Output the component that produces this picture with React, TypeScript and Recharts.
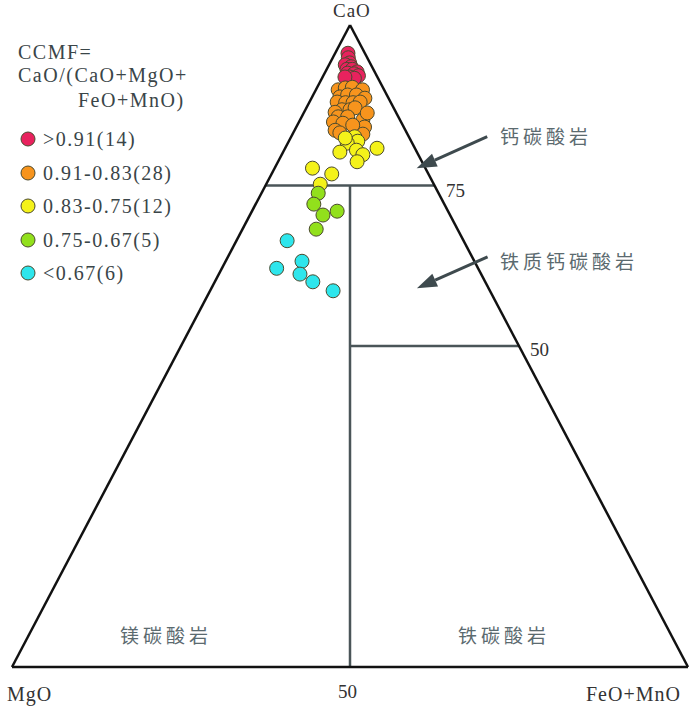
import React from 'react';
import { ScatterChart, Scatter, XAxis, YAxis, ReferenceLine } from 'recharts';

// compositions as [CaO, MgO, FeO+MnO] (%)
const ccmfHigh = [
  [95.6, 2.5, 1.9], [94.9, 2.8, 2.3], [94.1, 3.0, 2.9], [93.8, 3.8, 2.4], [93.5, 3.1, 3.4],
  [93.1, 3.9, 3.0], [93.1, 3.1, 3.8], [92.7, 2.6, 4.7], [92.5, 4.1, 3.4], [92.4, 3.2, 4.4],
  [92.1, 2.7, 5.2], [91.9, 4.1, 4.0], [91.7, 3.5, 4.8], [91.9, 4.8, 3.3],
];
const ccmf91to83 = [
  [89.9, 6.8, 3.3], [90.2, 5.6, 4.2], [90.3, 4.5, 5.2], [89.9, 3.2, 6.9], [88.8, 7.1, 4.1],
  [89.1, 5.8, 5.1], [89.1, 4.5, 6.4], [88.6, 3.5, 7.9], [88.0, 7.9, 4.1], [87.9, 6.7, 5.4],
  [87.9, 5.6, 6.5], [88.0, 4.5, 7.5], [86.8, 7.8, 5.4], [86.8, 6.6, 6.6], [86.4, 9.0, 4.6],
  [87.1, 5.7, 7.2], [85.2, 5.5, 9.3], [86.3, 4.3, 9.4], [85.7, 8.9, 5.4], [85.7, 7.5, 6.8],
  [84.9, 10.0, 5.1], [84.7, 8.7, 6.6], [84.1, 7.3, 8.6], [84.1, 5.8, 10.1], [83.6, 10.4, 6.0],
  [83.2, 9.9, 6.9], [83.0, 6.6, 10.4], [84.4, 7.4, 8.2],
];
const ccmf83to75 = [
  [82.6, 8.0, 9.4], [81.9, 7.9, 10.2], [81.6, 9.6, 8.8], [80.2, 11.4, 8.4], [80.5, 8.8, 10.7],
  [79.8, 8.2, 12.0], [80.8, 5.6, 13.6], [78.7, 9.6, 11.7], [77.7, 16.7, 5.6], [76.8, 14.3, 8.9],
  [75.2, 16.8, 8.0], [82.4, 9.5, 8.1],
];
const ccmf75to67 = [
  [73.8, 17.8, 8.4], [72.1, 19.3, 8.6], [70.4, 18.8, 10.8], [71.0, 16.4, 12.6], [68.2, 20.9, 10.9],
];
const ccmfLow = [
  [66.4, 26.1, 7.5], [63.2, 25.5, 11.3], [62.1, 29.8, 8.1], [61.2, 26.8, 12.0], [60.0, 25.5, 14.5],
  [58.6, 23.2, 18.2],
];

const groups = [
  { label: '>0.91(14)', color: '#e8225e', data: ccmfHigh },
  { label: '0.91-0.83(28)', color: '#f7941d', data: ccmf91to83 },
  { label: '0.83-0.75(12)', color: '#f4f21a', data: ccmf83to75 },
  { label: '0.75-0.67(5)', color: '#92e01c', data: ccmf75to67 },
  { label: '<0.67(6)', color: '#2ee6ec', data: ccmfLow },
];

// field boundaries, ternary endpoints
const outline = [
  [[0, 100, 0], [100, 0, 0]],
  [[100, 0, 0], [0, 0, 100]],
  [[0, 100, 0], [0, 0, 100]],
];
const boundaries = [
  [[75, 25, 0], [75, 0, 25]],
  [[50, 25, 25], [50, 0, 50]],
  [[0, 50, 50], [75, 12.5, 12.5]],
];
const arrows = [
  [[82.6, -11.6, 29.0], [77.7, 1.3, 21.0]],
  [[63.9, -2.3, 38.4], [59.0, 10.6, 30.4]],
];

const toXY = (p: number[]) => {
  const [cao, mgo, feo] = p;
  const s = cao + mgo + feo;
  return { x: (feo + cao / 2) / s, y: cao / s };
};

const serif = '"Liberation Serif", "Times New Roman", serif';
const cjk = '"Noto Sans CJK SC", sans-serif';

const Dot = (props: any) => {
  const { cx, cy, fill } = props;
  return <circle cx={cx} cy={cy} r={7} fill={fill} stroke="#4b4a2e" strokeWidth={1} />;
};

const Arrow = (props: any) => {
  const { x1, y1, x2, y2 } = props;
  const ang = Math.atan2(y2 - y1, x2 - x1);
  const len = 20, half = 7;
  const bx = x2 - len * Math.cos(ang), by = y2 - len * Math.sin(ang);
  const px = -Math.sin(ang) * half, py = Math.cos(ang) * half;
  return (
    <g>
      <line x1={x1} y1={y1} x2={bx} y2={by} stroke="#3e4a4e" strokeWidth={3} />
      <polygon points={`${x2},${y2} ${bx + px},${by + py} ${bx - px},${by - py}`} fill="#3e4a4e" />
    </g>
  );
};

const txt = (extra: React.CSSProperties): React.CSSProperties => ({
  position: 'absolute', whiteSpace: 'nowrap', lineHeight: 1, ...extra,
});

export default function App() {
  return (
    <div style={{ position: 'absolute', left: 0, top: 0, width: 700, height: 707, background: '#fff' }}>
      <ScatterChart width={700} height={707} margin={{ top: 25, right: 12, bottom: 40, left: 12 }}>
        <XAxis type="number" dataKey="x" domain={[0, 1]} hide />
        <YAxis type="number" dataKey="y" domain={[0, 1]} hide />
        {boundaries.map((b, i) => (
          <ReferenceLine key={'b' + i} segment={[toXY(b[0]), toXY(b[1])]} stroke="#4a5558" strokeWidth={2.5} ifOverflow="visible" />
        ))}
        {outline.map((b, i) => (
          <ReferenceLine key={'o' + i} segment={[toXY(b[0]), toXY(b[1])]} stroke="#111" strokeWidth={2.5} ifOverflow="visible" />
        ))}
        {arrows.map((b, i) => (
          <ReferenceLine key={'a' + i} segment={[toXY(b[0]), toXY(b[1])]} ifOverflow="visible" shape={Arrow} />
        ))}
        {groups.map((g) => (
          <Scatter key={g.label} data={g.data.map(toXY)} fill={g.color} shape={Dot} isAnimationActive={false} />
        ))}
      </ScatterChart>

      <div style={txt({ left: 333, top: 1, fontFamily: serif, fontSize: 19, color: '#333', letterSpacing: 1 })}>CaO</div>
      <div style={txt({ left: 7, top: 684, fontFamily: serif, fontSize: 20, color: '#333', letterSpacing: 1 })}>MgO</div>
      <div style={txt({ left: 338, top: 682, fontFamily: serif, fontSize: 19, color: '#333' })}>50</div>
      <div style={txt({ left: 586, top: 684, fontFamily: serif, fontSize: 20, color: '#333', letterSpacing: 1 })}>FeO+MnO</div>
      <div style={txt({ left: 446, top: 181, fontFamily: serif, fontSize: 19, color: '#333' })}>75</div>
      <div style={txt({ left: 530, top: 340, fontFamily: serif, fontSize: 19, color: '#333' })}>50</div>

      <div style={txt({ left: 500, top: 126, fontFamily: cjk, fontSize: 19, color: '#5b6a6f', letterSpacing: 4 })}>钙碳酸岩</div>
      <div style={txt({ left: 500, top: 251, fontFamily: cjk, fontSize: 19, color: '#5b6a6f', letterSpacing: 4 })}>铁质钙碳酸岩</div>
      <div style={txt({ left: 120, top: 625, fontFamily: cjk, fontSize: 19, color: '#5b6a6f', letterSpacing: 4 })}>镁碳酸岩</div>
      <div style={txt({ left: 458, top: 625, fontFamily: cjk, fontSize: 19, color: '#5b6a6f', letterSpacing: 4 })}>铁碳酸岩</div>

      <div style={txt({ left: 18, top: 42, fontFamily: serif, fontSize: 20, color: '#3a4548', letterSpacing: 1.5 })}>CCMF=</div>
      <div style={txt({ left: 18, top: 65, fontFamily: serif, fontSize: 20, color: '#3a4548', letterSpacing: 1.5 })}>CaO/(CaO+MgO+</div>
      <div style={txt({ left: 78, top: 90, fontFamily: serif, fontSize: 20, color: '#3a4548', letterSpacing: 1.5 })}>FeO+MnO)</div>

      {groups.map((g, i) => (
        <div key={g.label} style={txt({ left: 20, top: 129 + i * 33.5, display: 'flex', alignItems: 'center', fontFamily: serif, fontSize: 20, color: '#3a4548', letterSpacing: 1.5 })}>
          <svg width={16} height={16} style={{ marginRight: 7 }}>
            <circle cx={8} cy={8} r={7} fill={g.color} stroke="#4b4a2e" strokeWidth={1} />
          </svg>
          <span>{g.label}</span>
        </div>
      ))}
    </div>
  );
}
